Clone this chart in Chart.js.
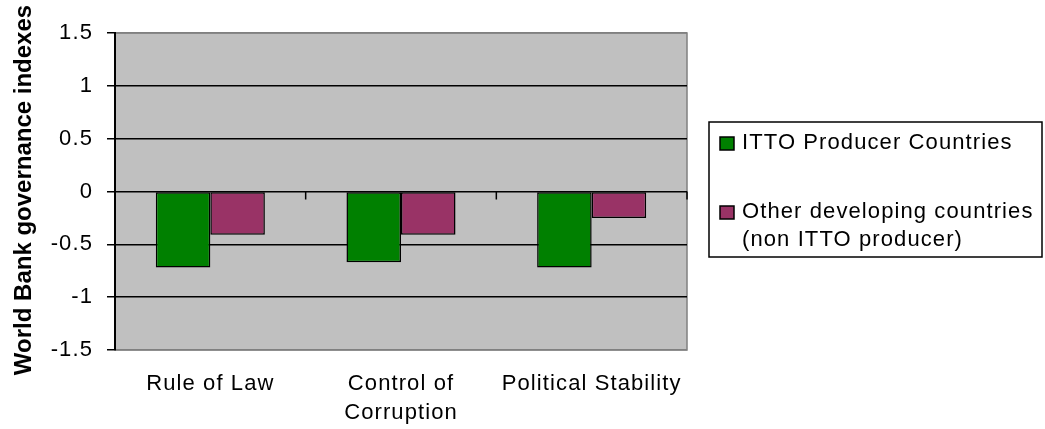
<!DOCTYPE html>
<html>
<head>
<meta charset="utf-8">
<script src="https://cdn.jsdelivr.net/npm/chart.js@4.4.1/dist/chart.umd.min.js"></script>
<style>
  html, body { margin: 0; padding: 0; background: #ffffff; }
  #wrap { width: 1045px; height: 429px; position: relative; }
</style>
</head>
<body>
<div id="wrap"><canvas id="gov_chart"></canvas></div>
<script>
// data
const categories = [['Rule of Law'], ['Control of', 'Corruption'], ['Political Stability']];
const ittoProducers = [-0.72, -0.67, -0.72];
const otherDeveloping = [-0.41, -0.41, -0.25];
const seriesLines = [['ITTO Producer Countries'], ['Other developing countries', '(non ITTO producer)']];
const seriesColors = ['#008000', '#993366'];
const yTicks = [-1.5, -1, -0.5, 0, 0.5, 1, 1.5];
const yTitle = 'World Bank governance indexes';

const FONT = "'Liberation Sans', Arial, sans-serif";
const SPACING = '1.1px';

// old excel look: text is drawn a bit spread out
const spacingPlugin = {
    id: 'spacing',
    beforeLayout(chart) { chart.ctx.letterSpacing = SPACING; },
    beforeDraw(chart) { chart.ctx.letterSpacing = SPACING; }
};

// gray plot area with a thin dark border
const plotArea = {
    id: 'plotArea',
    beforeDraw(chart) {
        const {ctx, chartArea: a} = chart;
        ctx.save();
        ctx.fillStyle = '#C0C0C0';
        ctx.fillRect(a.left, a.top, a.right - a.left, a.bottom - a.top);
        ctx.strokeStyle = '#808080';
        ctx.lineWidth = 1.5;
        ctx.strokeRect(a.left, a.top, a.right - a.left, a.bottom - a.top);
        ctx.restore();
    },
    afterDatasetsDraw(chart) {
        // category tick marks hanging below the zero line
        const {ctx, chartArea: a} = chart;
        const y0 = chart.scales.y.getPixelForValue(0);
        const n = categories.length;
        const w = (a.right - a.left) / n;
        ctx.save();
        ctx.strokeStyle = '#000';
        ctx.lineWidth = 1.5;
        ctx.beginPath();
        for (let i = 1; i <= n; i++) {
            const x = a.left + i * w;
            ctx.moveTo(x, y0);
            ctx.lineTo(x, y0 + 8);
        }
        ctx.stroke();
        ctx.restore();
    }
};

// bold axis title, tighter than the rest of the text
const axisTitle = {
    id: 'axisTitle',
    afterDraw(chart) {
        const ctx = chart.ctx;
        ctx.save();
        ctx.letterSpacing = '0px';
        ctx.translate(24, 190);
        ctx.rotate(-Math.PI / 2);
        ctx.font = 'bold 24px ' + FONT;
        ctx.fillStyle = '#000';
        ctx.textAlign = 'center';
        ctx.textBaseline = 'middle';
        ctx.fillText(yTitle, 0, 0);
        ctx.restore();
    }
};

// boxed legend on the right
const boxLegend = {
    id: 'boxLegend',
    afterDraw(chart) {
        const ctx = chart.ctx;
        const a = chart.chartArea;
        const bx = a.right + 22, by = 122, bw = 333, bh = 135;
        ctx.save();
        ctx.letterSpacing = SPACING;
        ctx.fillStyle = '#fff';
        ctx.fillRect(bx, by, bw, bh);
        ctx.strokeStyle = '#000';
        ctx.lineWidth = 1.5;
        ctx.strokeRect(bx, by, bw, bh);
        ctx.font = '22px ' + FONT;
        ctx.textBaseline = 'middle';
        ctx.textAlign = 'left';
        let y = by + 21;
        chart.data.datasets.forEach((ds, i) => {
            ctx.fillStyle = ds.backgroundColor;
            ctx.fillRect(bx + 11, y - 6, 14, 13);
            ctx.strokeStyle = '#000';
            ctx.lineWidth = 1.5;
            ctx.strokeRect(bx + 11, y - 6, 14, 13);
            ctx.fillStyle = '#000';
            seriesLines[i].forEach((line, j) => {
                ctx.fillText(line, bx + 33, y + j * 28);
            });
            y += 69;
        });
        ctx.restore();
    }
};

let gov_chart = document.getElementById('gov_chart').getContext('2d');
new Chart(gov_chart, {
    type: 'bar',
    data: {
        labels: categories,
        datasets: [
            {
                label: seriesLines[0].join(' '),
                data: ittoProducers,
                backgroundColor: seriesColors[0],
                borderColor: '#000',
                borderWidth: 1.5,
                borderSkipped: false,
                categoryPercentage: 0.572,
                barPercentage: 1.0,
            },
            {
                label: seriesLines[1].join(' '),
                data: otherDeveloping,
                backgroundColor: seriesColors[1],
                borderColor: '#000',
                borderWidth: 1.5,
                borderSkipped: false,
                categoryPercentage: 0.572,
                barPercentage: 1.0,
            }
        ],
    },
    options: {
        responsive: true,
        maintainAspectRatio: false,
        animation: false,
        layout: {
            padding: {left: 0, right: 358, top: 33, bottom: 0}
        },
        plugins: {
            legend: {display: false},
            tooltip: {enabled: false},
        },
        scales: {
            x: {
                afterFit(scale) { scale.height = 79; },
                grid: {display: false, drawTicks: false},
                border: {display: false},
                ticks: {
                    color: '#000',
                    font: {family: FONT, size: 22, lineHeight: 1.32},
                    padding: 19,
                    autoSkip: false,
                    maxRotation: 0,
                    minRotation: 0,
                }
            },
            y: {
                min: yTicks[0],
                max: yTicks[yTicks.length - 1],
                afterFit(scale) { scale.width = 115; },
                afterBuildTicks(scale) { scale.ticks = yTicks.map(v => ({value: v})); },
                border: {display: true, color: '#000', width: 2},
                grid: {
                    color: ctx => (ctx.tick && Math.abs(ctx.tick.value) === 1.5) ? '#808080' : '#000',
                    tickColor: '#000',
                    lineWidth: 1.5,
                    tickLength: 8,
                },
                ticks: {
                    color: '#000',
                    font: {family: FONT, size: 22},
                    padding: 14,
                    callback: v => String(v),
                },
                title: {display: false}
            }
        }
    },
    plugins: [spacingPlugin, plotArea, axisTitle, boxLegend]
});
</script>
</body>
</html>
